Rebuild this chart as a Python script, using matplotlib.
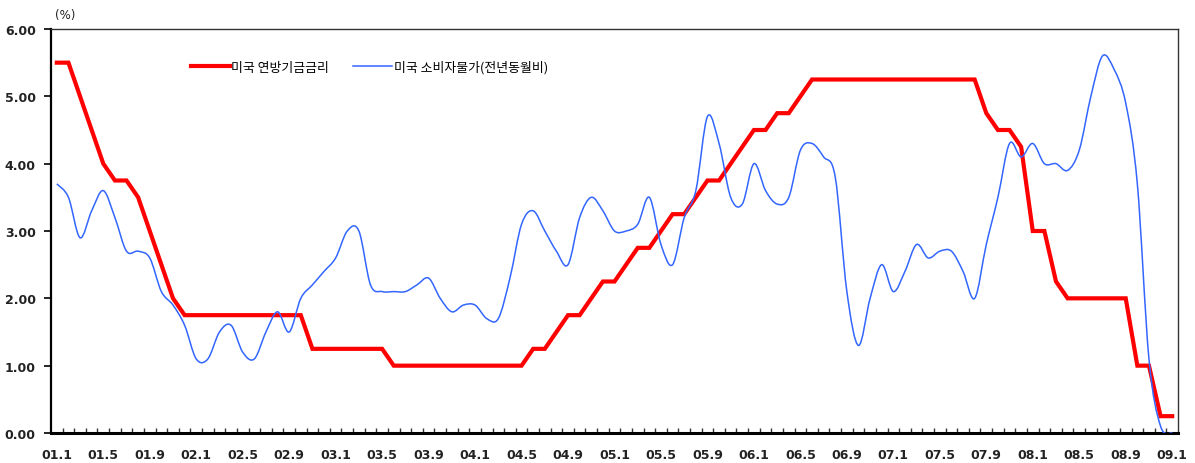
import matplotlib
matplotlib.use('Agg')
import matplotlib.pyplot as plt
from matplotlib.path import Path
from matplotlib.patches import PathPatch
from matplotlib.lines import Line2D
from matplotlib.ticker import FixedLocator, FormatStrFormatter
import numpy as np

plt.rcParams['font.family'] = ['DejaVu Sans', 'Noto Sans CJK KR']

# monthly, 2001.1 ~ 2009.1
FED_RATE = [5.50, 5.50, 5.00, 4.50, 4.00, 3.75, 3.75, 3.50, 3.00, 2.50, 2.00, 1.75,
            1.75, 1.75, 1.75, 1.75, 1.75, 1.75, 1.75, 1.75, 1.75, 1.75, 1.25, 1.25,
            1.25, 1.25, 1.25, 1.25, 1.25, 1.00, 1.00, 1.00, 1.00, 1.00, 1.00, 1.00,
            1.00, 1.00, 1.00, 1.00, 1.00, 1.25, 1.25, 1.50, 1.75, 1.75, 2.00, 2.25,
            2.25, 2.50, 2.75, 2.75, 3.00, 3.25, 3.25, 3.50, 3.75, 3.75, 4.00, 4.25,
            4.50, 4.50, 4.75, 4.75, 5.00, 5.25, 5.25, 5.25, 5.25, 5.25, 5.25, 5.25,
            5.25, 5.25, 5.25, 5.25, 5.25, 5.25, 5.25, 5.25, 4.75, 4.50, 4.50, 4.25,
            3.00, 3.00, 2.25, 2.00, 2.00, 2.00, 2.00, 2.00, 2.00, 1.00, 1.00, 0.25,
            0.25]
CPI_YOY = [3.7, 3.5, 2.9, 3.3, 3.6, 3.2, 2.7, 2.7, 2.6, 2.1, 1.9, 1.6,
           1.1, 1.1, 1.5, 1.6, 1.2, 1.1, 1.5, 1.8, 1.5, 2.0, 2.2, 2.4,
           2.6, 3.0, 3.0, 2.2, 2.1, 2.1, 2.1, 2.2, 2.3, 2.0, 1.8, 1.9,
           1.9, 1.7, 1.7, 2.3, 3.1, 3.3, 3.0, 2.7, 2.5, 3.2, 3.5, 3.3,
           3.0, 3.0, 3.1, 3.5, 2.8, 2.5, 3.2, 3.6, 4.7, 4.3, 3.5, 3.4,
           4.0, 3.6, 3.4, 3.5, 4.2, 4.3, 4.1, 3.8, 2.1, 1.3, 2.0, 2.5,
           2.1, 2.4, 2.8, 2.6, 2.7, 2.7, 2.4, 2.0, 2.8, 3.5, 4.3, 4.1,
           4.3, 4.0, 4.0, 3.9, 4.2, 5.0, 5.6, 5.4, 4.9, 3.7, 1.1, 0.1,
           0.0]
TICK_LABELS = ['01.1', '01.5', '01.9', '02.1', '02.5', '02.9', '03.1', '03.5', '03.9',
               '04.1', '04.5', '04.9', '05.1', '05.5', '05.9', '06.1', '06.5', '06.9',
               '07.1', '07.5', '07.9', '08.1', '08.5', '08.9', '09.1']
NAMES = ['미국 연방기금금리', '미국 소비자물가(전년동월비)']

RED = '#FF0000'
BLUE = '#3366FF'


def smooth_path(y):
    # excel-like smoothed line: bezier segments with catmull-rom control points
    y = np.asarray(y, dtype=float)
    x = np.arange(len(y), dtype=float)
    pts = np.column_stack([x, y])
    verts = [pts[0]]
    codes = [Path.MOVETO]
    n = len(pts)
    for i in range(n - 1):
        p0 = pts[max(i - 1, 0)]
        p1 = pts[i]
        p2 = pts[i + 1]
        p3 = pts[min(i + 2, n - 1)]
        c1 = p1 + (p2 - p0) / 6.0
        c2 = p2 - (p3 - p1) / 6.0
        verts += [c1, c2, p2]
        codes += [Path.CURVE4] * 3
    return Path(verts, codes)


fig = plt.figure(figsize=(11.95, 4.64), dpi=100)
ax = fig.add_axes([51 / 1195, 1 - 434 / 464, (1178 - 51) / 1195, (434 - 30) / 464])

xs = np.arange(len(FED_RATE))
ax.plot(xs, FED_RATE, color=RED, lw=3.0, solid_joinstyle='miter', zorder=2)
ax.add_patch(PathPatch(smooth_path(CPI_YOY), fill=False, edgecolor=BLUE, lw=1.1,
                       transform=ax.transData, zorder=3))

ax.set_xlim(-0.5, len(FED_RATE) - 0.5)
ax.set_ylim(0, 6)
ax.yaxis.set_major_locator(FixedLocator(np.arange(0, 7, 1.0)))
ax.yaxis.set_major_formatter(FormatStrFormatter('%.2f'))

ax.set_xticks(np.arange(0, len(FED_RATE), 4))
ax.set_xticklabels(TICK_LABELS)
ax.xaxis.set_minor_locator(FixedLocator(np.arange(0.5, len(FED_RATE) - 0.5, 1)))
ax.tick_params(axis='x', which='major', length=0, pad=11, labelsize=9)
ax.tick_params(axis='x', which='minor', direction='in', length=3.5, width=1, color='#333333')
ax.tick_params(axis='y', which='major', direction='out', length=5, width=1.2, pad=6, labelsize=9)
for lbl in ax.get_xticklabels() + ax.get_yticklabels():
    lbl.set_fontweight('bold')
    lbl.set_color('#222222')

ax.spines['left'].set_linewidth(1.6)
ax.spines['bottom'].set_linewidth(2.2)
ax.spines['top'].set_linewidth(1.0)
ax.spines['right'].set_linewidth(1.0)
ax.spines['top'].set_color('#333333')
ax.spines['right'].set_color('#333333')

fig.text(55 / 1195, 1 - 15 / 464, '(%)', fontsize=8.5, va='center', ha='left', color='#222222')

handles = [Line2D([], [], color=RED, lw=3.0), Line2D([], [], color=BLUE, lw=1.1)]
ax.legend(handles, NAMES, loc='center left', bbox_to_anchor=(191 / 1195, 1 - 68 / 464),
          bbox_transform=fig.transFigure, ncol=2, frameon=False,
          prop={'family': ['Noto Sans CJK KR'], 'size': 9.3, 'weight': 'medium'},
          handlelength=3.0, handletextpad=0.1, columnspacing=1.9, borderpad=0, borderaxespad=0)

fig.savefig('out.png', dpi=100)
